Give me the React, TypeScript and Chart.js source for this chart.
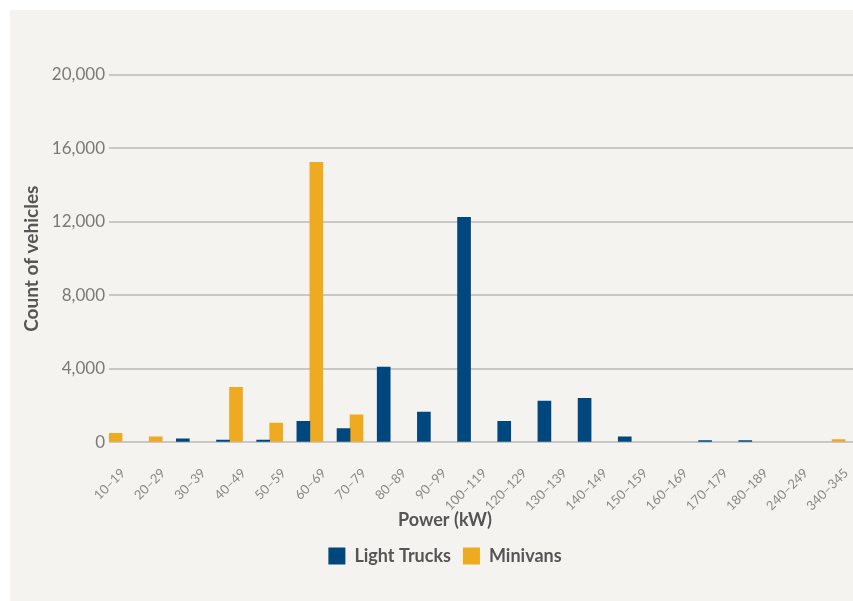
import React, { useEffect, useRef } from "react";
import { Chart, registerables } from "chart.js";

Chart.register(...registerables);

const categories = [
  "10–19", "20–29", "30–39", "40–49", "50–59", "60–69", "70–79", "80–89", "90–99",
  "100–119", "120–129", "130–139", "140–149", "150–159", "160–169", "170–179",
  "180–189", "240–249", "340–345",
];
const lightTrucks = [0, 0, 200, 120, 120, 1150, 750, 4100, 1650, 12250, 1150, 2250, 2400, 300, 0, 100, 100, 0, 0];
const minivans = [500, 300, 0, 3000, 1050, 15250, 1500, 0, 0, 0, 0, 0, 0, 0, 0, 0, 0, 0, 150];
const yTicks = [0, 4000, 8000, 12000, 16000, 20000];

const FONT = "Lato, 'Open Sans', sans-serif";

const toPoints = (arr: number[]) => arr.map((v, i) => ({ x: i, y: v === 0 ? null : v }));

export default function App() {
  const ref = useRef<HTMLCanvasElement | null>(null);

  useEffect(() => {
    if (!ref.current) return;
    const chart = new Chart(ref.current, {
      type: "bar",
      data: {
        datasets: [
          {
            label: "Light Trucks",
            data: toPoints(lightTrucks) as any,
            backgroundColor: "#00477D",
            barThickness: 13,
          },
          {
            label: "Minivans",
            data: toPoints(minivans) as any,
            backgroundColor: "#EEAB22",
            barThickness: 13,
          },
        ],
      },
      options: {
        responsive: false,
        animation: false,
        layout: { padding: { left: 27, right: 0, top: 65, bottom: 26 } },
        scales: {
          x: {
            type: "linear",
            offset: false,
            bounds: "data",
            min: 0,
            max: 18.52,
            grid: { display: false, drawTicks: true, tickLength: 20 },
            border: { display: false },
            ticks: {
              stepSize: 1,
              includeBounds: false,
              autoSkip: false,
              maxRotation: 45,
              minRotation: 45,
              padding: 3,
              labelOffset: 14,
              color: "#8a8a8a",
              font: { family: FONT, size: 13 },
              callback: (v: any) => categories[v as number] ?? "",
            },
            afterFit: (s: any) => {
              s.height = 68;
            },
          },
          y: {
            min: 0,
            max: 20000,
            afterBuildTicks: (s: any) => {
              s.ticks = yTicks.map((v) => ({ value: v }));
            },
            grid: { color: "#C8C8C8", lineWidth: 2, drawTicks: false },
            border: { display: false },
            ticks: {
              padding: 4,
              color: "#7a7a7a",
              font: { family: FONT, size: 17 },
              callback: (v: any) => Number(v).toLocaleString("en-US"),
            },
            title: {
              display: true,
              text: "Count of vehicles",
              color: "#555555",
              font: { family: FONT, size: 19, weight: "bold" },
              padding: { top: -17, bottom: 0 },
            },
            afterFit: (s: any) => {
              s.width = 72;
            },
          },
        },
        plugins: {
          title: {
            display: true,
            position: "bottom",
            text: "Power (kW)",
            color: "#555555",
            weight: 500,
            font: { family: FONT, size: 18, weight: "bold" },
            padding: { top: -1, bottom: 4 },
          } as any,
          legend: {
            position: "bottom",
            labels: {
              boxWidth: 17,
              boxHeight: 17,
              padding: 12,
              color: "#555555",
              font: { family: FONT, size: 18, weight: "bold" },
            },
          },
          tooltip: { enabled: false },
        },
      },
    });
    return () => chart.destroy();
  }, []);

  return (
    <div style={{ position: "absolute", left: 0, top: 0, width: 853, height: 601, background: "#ffffff" }}>
      <div style={{ position: "absolute", left: 10, top: 10, width: 843, height: 591, background: "#F4F3EF" }}>
        <canvas ref={ref} width={843} height={591} style={{ display: "block" }} />
      </div>
    </div>
  );
}
